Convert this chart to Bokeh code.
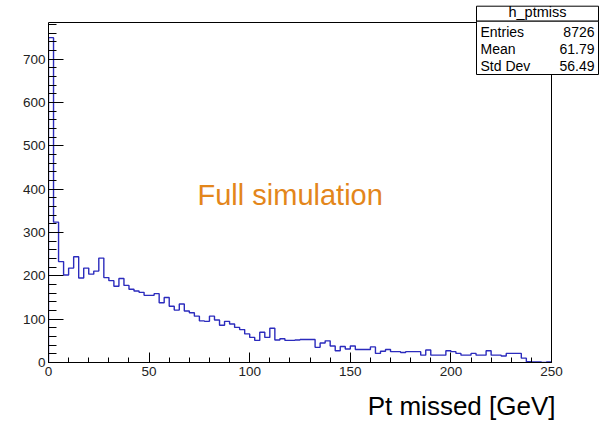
import numpy as np
from bokeh.plotting import figure
from bokeh.models import Range1d, FixedTicker, Label, BoxAnnotation, Title
from bokeh.embed import file_html
from bokeh.resources import INLINE

# ---- data ----
bin_edges = list(np.arange(0.0, 250.0 + 2.5, 2.5))
counts = [
    750, 324, 233, 202, 218, 244, 195, 218, 204, 211,
    241, 196, 189, 176, 194, 178, 169, 165, 162, 155,
    155, 159, 138, 150, 130, 121, 135, 119, 115, 107,
    96, 95, 107, 98, 86, 95, 89, 81, 76, 66,
    58, 51, 70, 58, 79, 52, 55, 51, 51, 52,
    53, 53, 53, 35, 45, 50, 38, 27, 37, 31,
    38, 30, 30, 30, 36, 21, 26, 30, 25, 25,
    23, 25, 25, 25, 17, 29, 17, 17, 17, 27,
    25, 21, 17, 17, 21, 17, 17, 27, 17, 17,
    15, 21, 21, 21, 10, 2, 1, 1, 0, 1,
]
x_ticks = [0, 50, 100, 150, 200, 250]
y_ticks = [0, 100, 200, 300, 400, 500, 600, 700]
hist_name = "h_ptmiss"
stats_labels = ["Entries", "Mean", "Std Dev"]
stats_values = ["8726", "61.79", "56.49"]
x_title = "Pt missed [GeV]"
note_text = "Full simulation"

# histogram frame limits
X_LO, X_HI = 0.0, 250.0
Y_LO, Y_HI = 0.0, 785.0

# pixel layout: frame box 48..551 x 22..362 ; plotting area extended to canvas top/right
PX_L, PX_R, PX_T, PX_B = 48, 551, 22, 362
W, H = 605, 432
ux = (X_HI - X_LO) / (PX_R - PX_L)      # data per pixel
uy = (Y_HI - Y_LO) / (PX_B - PX_T)

def dx(px):
    return X_LO + (px - PX_L) * ux

def dy(py):
    return Y_LO + (PX_B - py) * uy

p = figure(width=W, height=H, output_backend="svg", toolbar_location=None,
           x_range=Range1d(X_LO, dx(W)), y_range=Range1d(Y_LO, dy(0)),
           min_border_left=PX_L, min_border_right=0, min_border_top=0,
           min_border_bottom=H - PX_B)
p.background_fill_color = "white"
p.border_fill_color = "white"
p.outline_line_color = None
p.grid.visible = False

FONT = "Liberation Sans"

# axes in ROOT style (ticks inside)
xa = p.xaxis[0]
xa.bounds = (X_LO, X_HI)
xa.ticker = FixedTicker(ticks=x_ticks, minor_ticks=list(range(0, 251, 10)))
xa.major_tick_in = 10
xa.major_tick_out = 0
xa.minor_tick_in = 5
xa.minor_tick_out = 0
xa.major_label_text_font = FONT
xa.major_label_text_font_size = "13.5px"
xa.major_label_text_color = "#222222"
xa.major_label_standoff = 4
xa.axis_line_color = "black"
xa.major_tick_line_color = "black"
xa.minor_tick_line_color = "black"

ya = p.yaxis[0]
ya.bounds = (Y_LO, Y_HI)
ya.ticker = FixedTicker(ticks=y_ticks, minor_ticks=list(range(0, 781, 20)))
ya.major_tick_in = 15
ya.major_tick_out = 0
ya.minor_tick_in = 8
ya.minor_tick_out = 0
ya.major_label_text_font = FONT
ya.major_label_text_font_size = "13.5px"
ya.major_label_text_color = "#222222"
ya.major_label_standoff = 3
ya.axis_line_color = "black"
ya.major_tick_line_color = "black"
ya.minor_tick_line_color = "black"

# axis title, right-aligned below the axis (ROOT style)
p.add_layout(Title(text=x_title, align="right", offset=W - 555, standoff=20,
                   text_font=FONT, text_font_size="26px", text_font_style="normal",
                   text_color="black"), "below")

# histogram outline
xs = [bin_edges[0]] + bin_edges[:-1] + [bin_edges[-1]]
ys = [0] + counts + [0]
p.step(x=xs, y=ys, mode="after", line_color="#2b2bbd", line_width=1.4)

# frame box (ROOT pad frame)
p.add_layout(BoxAnnotation(left=X_LO, right=X_HI, bottom=Y_LO, top=Y_HI,
                           fill_alpha=0.0, fill_color=None,
                           line_color="black", line_width=1, line_alpha=1.0))

# overlay text (baseline correction: Bokeh places alphabetic baseline ~0.39em low)
def label(x_px, base_px, text, size, **kw):
    return Label(x=dx(x_px), y=dy(base_px - 0.39 * size), text=text, text_font=FONT,
                 text_font_size=f"{size}px", text_baseline="alphabetic", **kw)

p.add_layout(label(197, 206, note_text, 29, text_color="#E3861B", text_align="left"))

# stats box
bl, br, bt, bd, bb = 476, 598, 5.7, 20.7, 74
p.add_layout(BoxAnnotation(left=dx(bl), right=dx(br), top=dy(bt), bottom=dy(bd),
                           fill_color="white", fill_alpha=1.0,
                           line_color="black", line_width=1, line_alpha=1.0))
p.add_layout(BoxAnnotation(left=dx(bl), right=dx(br), top=dy(bd), bottom=dy(bb),
                           fill_color="white", fill_alpha=1.0,
                           line_color="black", line_width=1, line_alpha=1.0))
p.add_layout(label((bl + br) / 2, 17, hist_name, 14.5, text_align="center", text_color="black"))
row_base = [36.5, 53.5, 70.5]
for lab, val, yb in zip(stats_labels, stats_values, row_base):
    p.add_layout(label(480, yb, lab, 14, text_align="left", text_color="black"))
    p.add_layout(label(594, yb, val, 14, text_align="right", text_color="black"))

open("out.html", "w").write(file_html(p, INLINE))
